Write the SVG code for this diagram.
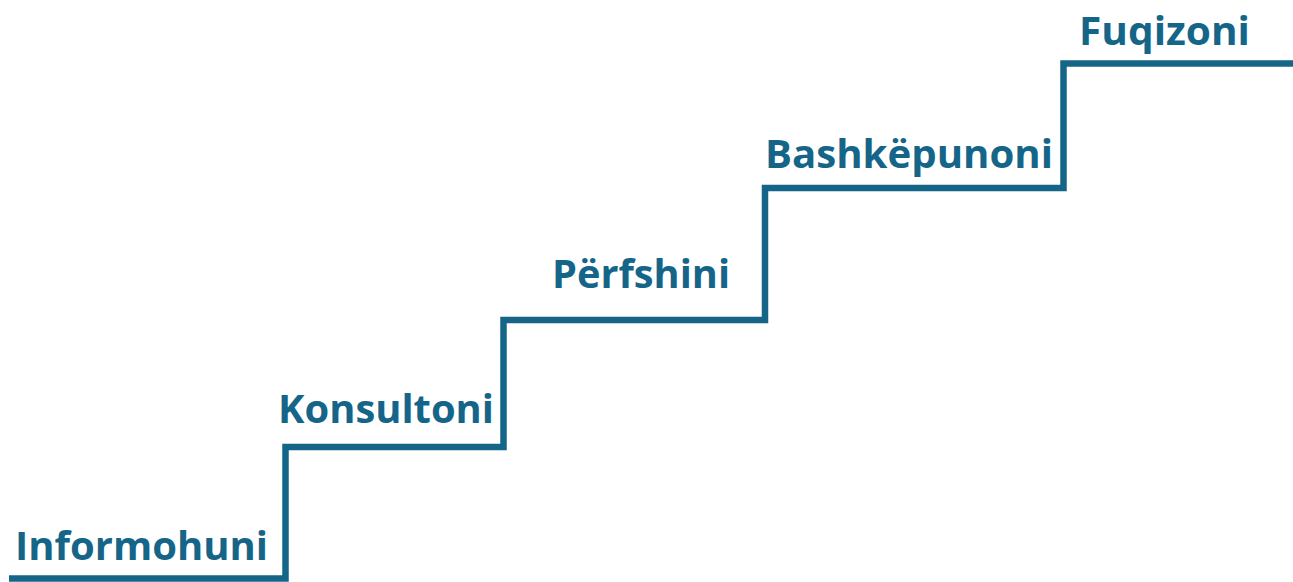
<svg xmlns="http://www.w3.org/2000/svg" width="1293" height="582" viewBox="0 0 1293 582">
<style>
.lbl{font-family:"Open Sans","Noto Sans","Liberation Sans",sans-serif;font-weight:bold;font-size:40px;fill:#156589}
.stair{fill:none;stroke:#156589;stroke-width:6.5;stroke-linejoin:miter}
</style>
<rect width="1293" height="582" fill="#fff"/>
<g id="connectors">
<path class="stair" d="M9 578.5 H285.5 V447 H503.5 V320 H765 V188 H1063.5 V63.5 H1293"/>
</g>
<g id="n1"><text class="lbl" x="15" y="560" textLength="253" lengthAdjust="spacingAndGlyphs">Informohuni</text></g>
<g id="n2"><text class="lbl" x="278" y="423" textLength="216" lengthAdjust="spacingAndGlyphs">Konsultoni</text></g>
<g id="n3"><text class="lbl" x="552" y="288" textLength="178" lengthAdjust="spacingAndGlyphs">Përfshini</text></g>
<g id="n4"><text class="lbl" x="765" y="168" textLength="288" lengthAdjust="spacingAndGlyphs">Bashkëpunoni</text></g>
<g id="n5"><text class="lbl" x="1079" y="45" textLength="171" lengthAdjust="spacingAndGlyphs">Fuqizoni</text></g>
</svg>
